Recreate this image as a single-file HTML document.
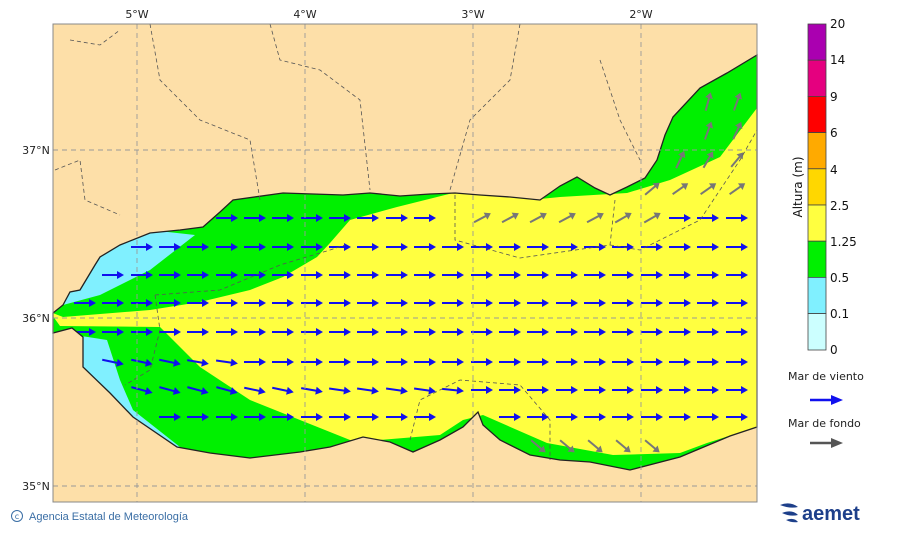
<!DOCTYPE html>
<html><head><meta charset="utf-8"><style>
body{margin:0;background:#fff;width:900px;height:533px;overflow:hidden;font-family:"Liberation Sans","DejaVu Sans",sans-serif}
</style></head><body>
<svg width="900" height="533" viewBox="0 0 900 533" xmlns="http://www.w3.org/2000/svg" font-family="DejaVu Sans, Liberation Sans, sans-serif">
<defs>
<clipPath id="sea"><path id="seap" d="M53,313 L63,305 L70,292 L80,290 L95,265 L100,257 L120,245 L150,233 L180,230 L203,227 L220,212 L233,200 L283,193 L343,195 L370,193 L400,196 L430,194 L455,193 L480,195 L510,197 L540,200 L560,186 L577,177 L595,188 L610,195 L627,187 L645,178 L657,160 L665,135 L673,117 L700,88 L727,73 L757,55 L757,427 L730,436 L680,457 L630,470 L590,462 L560,460 L530,455 L500,440 L483,425 L478,412 L470,420 L463,427 L440,440 L413,452 L390,442 L363,437 L330,447 L300,452 L250,458 L210,453 L177,447 L133,417 L110,393 L83,367 L83,337 L72,328 L53,333 Z"/></clipPath>
<g id="b"><line x1="-11" y1="0" x2="6" y2="0" stroke="#1010ee" stroke-width="2"/><path d="M11,0 L4,-4 L4,4 Z" fill="#1010ee"/></g>
<g id="g"><line x1="-9" y1="0" x2="6" y2="0" stroke="#777" stroke-width="2"/><path d="M10,0 L4,-4 L4,4 Z" fill="#777"/></g>
</defs>
<rect x="53" y="24" width="704" height="478" fill="#fddfa8" stroke="#999"/>
<g clip-path="url(#sea)">
<rect x="53" y="24" width="704" height="478" fill="#00f000"/>
<path d="M50,300 L63,305 L100,295 L150,270 L195,235 L150,230 L100,255Z" fill="#80f0ff"/>
<path d="M75,335 L107,340 L120,380 L133,410 L180,447 L150,445 L100,400 L75,360Z" fill="#80f0ff"/>
<path d="M50,312 L63,317 L150,310 L200,302 L250,290 L283,277 L317,257 L330,243 L350,220 L397,207 L453,193 L480,193 L540,199 L560,197 L627,193 L670,180 L720,157 L757,108 L757,427 L707,443 L680,453 L613,455 L547,443 L483,415 L463,420 L440,435 L380,440 L350,440 L300,420 L250,400 L200,367 L160,327 L60,326 Z" fill="#ffff40"/>
<path d="M490,445 L500,450 L515,462 L500,460 L490,452Z" fill="#80f0ff"/>
<g>
<g transform="translate(0,218)"><use href="#b" x="340"/><use href="#b" x="368"/><use href="#b" x="397"/><use href="#b" x="425"/><use href="#g" x="482" transform="rotate(-28 482 0)"/><use href="#g" x="510" transform="rotate(-28 510 0)"/><use href="#g" x="538" transform="rotate(-28 538 0)"/><use href="#g" x="567" transform="rotate(-28 567 0)"/><use href="#g" x="595" transform="rotate(-28 595 0)"/><use href="#g" x="623" transform="rotate(-30 623 0)"/><use href="#g" x="652" transform="rotate(-30 652 0)"/><use href="#b" x="680"/><use href="#b" x="708"/><use href="#b" x="737"/><use href="#b" x="198"/><use href="#b" x="227"/><use href="#b" x="255"/><use href="#b" x="283"/><use href="#b" x="312"/></g>
<g transform="translate(0,247)"><use href="#b" x="142"/><use href="#b" x="170"/><use href="#b" x="198"/><use href="#b" x="227"/><use href="#b" x="255"/><use href="#b" x="283"/><use href="#b" x="312"/><use href="#b" x="340"/><use href="#b" x="368"/><use href="#b" x="397"/><use href="#b" x="425"/><use href="#b" x="453"/><use href="#b" x="482"/><use href="#b" x="510"/><use href="#b" x="538"/><use href="#b" x="567"/><use href="#b" x="595"/><use href="#b" x="623"/><use href="#b" x="652"/><use href="#b" x="680"/><use href="#b" x="708"/><use href="#b" x="737"/></g>
<g transform="translate(0,275)"><use href="#b" x="113"/><use href="#b" x="142"/><use href="#b" x="170"/><use href="#b" x="198"/><use href="#b" x="227"/><use href="#b" x="255"/><use href="#b" x="283"/><use href="#b" x="312"/><use href="#b" x="340"/><use href="#b" x="368"/><use href="#b" x="397"/><use href="#b" x="425"/><use href="#b" x="453"/><use href="#b" x="482"/><use href="#b" x="510"/><use href="#b" x="538"/><use href="#b" x="567"/><use href="#b" x="595"/><use href="#b" x="623"/><use href="#b" x="652"/><use href="#b" x="680"/><use href="#b" x="708"/><use href="#b" x="737"/></g>
<g transform="translate(0,303)"><use href="#b" x="85"/><use href="#b" x="113"/><use href="#b" x="142"/><use href="#b" x="170"/><use href="#b" x="198"/><use href="#b" x="227"/><use href="#b" x="255"/><use href="#b" x="283"/><use href="#b" x="312"/><use href="#b" x="340"/><use href="#b" x="368"/><use href="#b" x="397"/><use href="#b" x="425"/><use href="#b" x="453"/><use href="#b" x="482"/><use href="#b" x="510"/><use href="#b" x="538"/><use href="#b" x="567"/><use href="#b" x="595"/><use href="#b" x="623"/><use href="#b" x="652"/><use href="#b" x="680"/><use href="#b" x="708"/><use href="#b" x="737"/></g>
<g transform="translate(0,332)"><use href="#b" x="85"/><use href="#b" x="113"/><use href="#b" x="142"/><use href="#b" x="170"/><use href="#b" x="198"/><use href="#b" x="227"/><use href="#b" x="255"/><use href="#b" x="283"/><use href="#b" x="312"/><use href="#b" x="340"/><use href="#b" x="368"/><use href="#b" x="397"/><use href="#b" x="425"/><use href="#b" x="453"/><use href="#b" x="482"/><use href="#b" x="510"/><use href="#b" x="538"/><use href="#b" x="567"/><use href="#b" x="595"/><use href="#b" x="623"/><use href="#b" x="652"/><use href="#b" x="680"/><use href="#b" x="708"/><use href="#b" x="737"/></g>
<g transform="translate(0,362)"><use href="#b" x="113" transform="rotate(12 113 0)"/><use href="#b" x="142" transform="rotate(12 142 0)"/><use href="#b" x="170" transform="rotate(12 170 0)"/><use href="#b" x="198" transform="rotate(10 198 0)"/><use href="#b" x="227" transform="rotate(8 227 0)"/><use href="#b" x="255"/><use href="#b" x="283"/><use href="#b" x="312"/><use href="#b" x="340"/><use href="#b" x="368"/><use href="#b" x="397"/><use href="#b" x="425"/><use href="#b" x="453"/><use href="#b" x="482"/><use href="#b" x="510"/><use href="#b" x="538"/><use href="#b" x="567"/><use href="#b" x="595"/><use href="#b" x="623"/><use href="#b" x="652"/><use href="#b" x="680"/><use href="#b" x="708"/><use href="#b" x="737"/></g>
<g transform="translate(0,390)"><use href="#b" x="142" transform="rotate(15 142 0)"/><use href="#b" x="170" transform="rotate(15 170 0)"/><use href="#b" x="198" transform="rotate(15 198 0)"/><use href="#b" x="227" transform="rotate(15 227 0)"/><use href="#b" x="255" transform="rotate(12 255 0)"/><use href="#b" x="283" transform="rotate(12 283 0)"/><use href="#b" x="312" transform="rotate(10 312 0)"/><use href="#b" x="340" transform="rotate(8 340 0)"/><use href="#b" x="368" transform="rotate(8 368 0)"/><use href="#b" x="397" transform="rotate(8 397 0)"/><use href="#b" x="425" transform="rotate(8 425 0)"/><use href="#b" x="453" transform="rotate(6 453 0)"/><use href="#b" x="482"/><use href="#b" x="510"/><use href="#b" x="538"/><use href="#b" x="567"/><use href="#b" x="595"/><use href="#b" x="623"/><use href="#b" x="652"/><use href="#b" x="680"/><use href="#b" x="708"/><use href="#b" x="737"/></g>
<g transform="translate(0,417)"><use href="#b" x="170"/><use href="#b" x="198"/><use href="#b" x="227"/><use href="#b" x="255"/><use href="#b" x="283"/><use href="#b" x="312"/><use href="#b" x="340"/><use href="#b" x="368"/><use href="#b" x="397"/><use href="#b" x="425"/><use href="#b" x="510"/><use href="#b" x="538"/><use href="#b" x="567"/><use href="#b" x="595"/><use href="#b" x="623"/><use href="#b" x="652"/><use href="#b" x="680"/><use href="#b" x="708"/><use href="#b" x="737"/></g>
<g transform="translate(0,446)"><use href="#g" x="538" transform="rotate(40 538 0)"/><use href="#g" x="567" transform="rotate(40 567 0)"/><use href="#g" x="595" transform="rotate(40 595 0)"/><use href="#g" x="623" transform="rotate(40 623 0)"/><use href="#g" x="652" transform="rotate(40 652 0)"/></g>
<g transform="translate(0,189)"><use href="#g" x="652" transform="rotate(-40 652 0)"/><use href="#g" x="680" transform="rotate(-35 680 0)"/><use href="#g" x="708" transform="rotate(-35 708 0)"/><use href="#g" x="737" transform="rotate(-35 737 0)"/></g>
<g transform="translate(0,160)"><use href="#g" x="680" transform="rotate(-65 680 0)"/><use href="#g" x="708" transform="rotate(-60 708 0)"/><use href="#g" x="737" transform="rotate(-50 737 0)"/></g>
<g transform="translate(0,131)"><use href="#g" x="708" transform="rotate(-70 708 0)"/><use href="#g" x="737" transform="rotate(-65 737 0)"/></g>
<g transform="translate(0,102)"><use href="#g" x="708" transform="rotate(-75 708 0)"/><use href="#g" x="737" transform="rotate(-70 737 0)"/></g>
</g>
</g>
<use href="#seap" fill="none" stroke="#222" stroke-width="1.3"/>
<g stroke="#555" stroke-dasharray="4,3" fill="none" stroke-width="0.8">
<path d="M70,40 L100,45 L120,30 M55,170 L80,160 L85,200 L120,215 M150,24 L160,80 L200,120 L250,140 L260,200 M270,24 L280,60 L320,70 L360,100 L370,190 M520,24 L510,80 L470,120 L450,190 M600,60 L620,120 L640,160 M455,195 L455,240 L520,258 L610,245 L615,200 M610,245 L640,250 L700,220 L740,160 L757,130"/>
<path d="M155,295 L220,290 L280,265 L330,250 L345,245 M155,295 L160,330 L150,370 L125,385 M410,440 L420,400 L460,380 L520,385 L550,420 L550,460"/>
</g>
<g stroke="#999" stroke-dasharray="5,4" stroke-width="0.9">
<line x1="137" y1="24" x2="137" y2="502"/><line x1="305" y1="24" x2="305" y2="502"/><line x1="473" y1="24" x2="473" y2="502"/><line x1="641" y1="24" x2="641" y2="502"/>
<line x1="53" y1="150" x2="757" y2="150"/><line x1="53" y1="318" x2="757" y2="318"/><line x1="53" y1="486" x2="757" y2="486"/>
</g>
<rect x="53" y="24" width="704" height="478" fill="none" stroke="#888"/>
<g font-size="11" fill="#222" text-anchor="middle">
<text x="137" y="18">5°W</text><text x="305" y="18">4°W</text><text x="473" y="18">3°W</text><text x="641" y="18">2°W</text>
<text x="36" y="154">37°N</text><text x="36" y="322">36°N</text><text x="36" y="490">35°N</text>
</g>
<g stroke="#444" stroke-width="0.8">
<rect x="808" y="24" width="18" height="36.2" fill="#aa00b0"/>
<rect x="808" y="60.2" width="18" height="36.2" fill="#e5007f"/>
<rect x="808" y="96.4" width="18" height="36.2" fill="#ff0000"/>
<rect x="808" y="132.6" width="18" height="36.2" fill="#ffaa00"/>
<rect x="808" y="168.8" width="18" height="36.2" fill="#ffd700"/>
<rect x="808" y="205" width="18" height="36.2" fill="#ffff40"/>
<rect x="808" y="241.2" width="18" height="36.2" fill="#00f000"/>
<rect x="808" y="277.4" width="18" height="36.2" fill="#80f0ff"/>
<rect x="808" y="313.6" width="18" height="36.4" fill="#ccffff"/>
</g>
<g font-size="12" fill="#111">
<text x="830" y="28">20</text><text x="830" y="64">14</text><text x="830" y="101">9</text><text x="830" y="137">6</text><text x="830" y="174">4</text><text x="830" y="210">2.5</text><text x="830" y="246">1.25</text><text x="830" y="282">0.5</text><text x="830" y="318">0.1</text><text x="830" y="354">0</text>
<text transform="translate(802,187) rotate(-90)" text-anchor="middle">Altura (m)</text>
</g>
<g font-size="11" fill="#222">
<text x="788" y="380">Mar de viento</text><text x="788" y="427">Mar de fondo</text>
</g>
<line x1="810" y1="400" x2="832" y2="400" stroke="#1010ee" stroke-width="2.5"/><path d="M843,400 L831,395 L831,405Z" fill="#1010ee"/>
<line x1="810" y1="443" x2="832" y2="443" stroke="#555" stroke-width="2.5"/><path d="M843,443 L831,438 L831,448Z" fill="#555"/>
<circle cx="17" cy="516" r="5.5" fill="none" stroke="#3a6ea5" stroke-width="1"/><text x="17" y="519" font-size="8" fill="#3a6ea5" text-anchor="middle">c</text>
<text x="29" y="520" font-size="11" fill="#3a6ea5" font-family="Liberation Sans, sans-serif">Agencia Estatal de Meteorología</text>
<g fill="#1d3f8a"><path d="M780,505 q10,-4 18,2 q-8,2 -18,-2Z M782,513 q10,-4 16,2 q-8,2 -16,-2Z M786,520 q8,-3 12,2 q-6,1 -12,-2Z"/></g>
<text x="802" y="520" font-size="20" font-weight="bold" fill="#1d3f8a" font-family="Liberation Sans, sans-serif">aemet</text>
</svg>
</body></html>
